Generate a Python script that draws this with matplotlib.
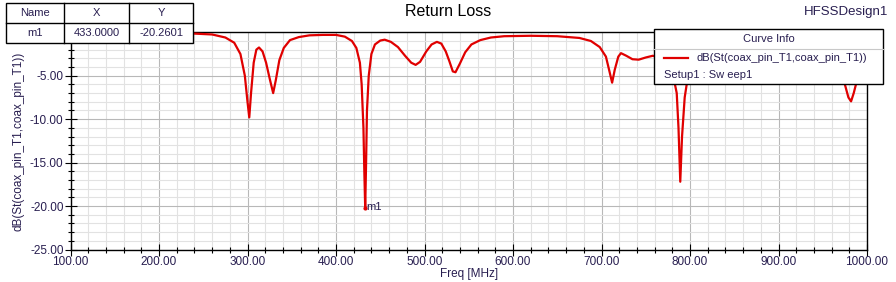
import matplotlib
matplotlib.use('Agg')
import matplotlib.pyplot as plt
from matplotlib.ticker import MultipleLocator, FormatStrFormatter
from matplotlib.patches import Rectangle
from matplotlib.lines import Line2D

plt.rcParams['font.family'] = ['Liberation Sans', 'DejaVu Sans']

TEXT_COLOR = '#281e50'
LINE_COLOR = '#e00000'

# S11 sweep (MHz, dB)
freq = [100, 150, 200, 240, 260, 275, 285, 292, 297, 300, 302, 304, 307, 310, 313,
        317, 321, 325, 329, 332, 336, 341, 348, 358, 370, 385, 400, 410, 418, 423,
        427, 429, 431, 432, 433, 434, 435, 437, 440, 444, 450, 455, 462, 470, 478,
        485, 490, 495, 502, 508, 514, 519, 524, 528, 532, 535, 540, 546, 553, 563,
        575, 590, 620, 650, 675, 688, 698, 705, 709, 712, 715, 719, 722, 728, 735,
        742, 750, 758, 765, 772, 778, 782, 785, 787, 789, 791, 794, 797, 802, 820,
        850, 900, 940, 960, 970, 975, 979, 982, 985, 988, 992, 1000]
s11_db = [-0.10, -0.10, -0.12, -0.15, -0.25, -0.6, -1.2, -2.5, -5.0, -8.0, -9.8, -7.0, -3.5, -2.0, -1.75,
          -2.2, -3.5, -5.3, -7.0, -5.5, -3.2, -1.8, -0.9, -0.55, -0.35, -0.3, -0.3, -0.5, -1.0, -1.8,
          -3.5, -6.0, -11.0, -16.0, -20.26, -15.0, -9.0, -5.0, -2.5, -1.4, -0.95, -0.85, -1.1, -1.7, -2.7,
          -3.5, -3.75, -3.4, -2.2, -1.4, -1.1, -1.3, -2.2, -3.3, -4.5, -4.6, -3.6, -2.3, -1.4, -0.9,
          -0.6, -0.45, -0.4, -0.45, -0.65, -1.0, -1.7, -2.8, -4.5, -5.8, -4.3, -2.8, -2.4, -2.7, -3.1,
          -3.15, -2.9, -2.7, -2.9, -3.5, -4.5, -5.5, -7.0, -11.0, -17.2, -12.0, -7.5, -5.5, -4.0, -2.8,
          -2.2, -2.0, -2.5, -3.5, -5.0, -6.0, -7.5, -7.95, -7.0, -5.8, -4.5, -3.0]

x_ticks = [100, 200, 300, 400, 500, 600, 700, 800, 900, 1000]
y_ticks = [-25, -20, -15, -10, -5]   # 0.00 sits under the marker table

marker_name = 'm1'
marker_x = 433.0
marker_y = -20.2601

W, H = 896, 282
fig = plt.figure(figsize=(W / 100, H / 100), dpi=100)
fig.patch.set_facecolor('white')


def px(x, y):
    # pixel coords (top-left origin) -> figure fraction
    return x / W, 1 - y / H


ax = fig.add_axes([70.5 / W, 1 - 249.5 / H, (867 - 70.5) / W, (249.5 - 32.3) / H])
ax.plot(freq, s11_db, color=LINE_COLOR, linewidth=1.6, zorder=3)
ax.set_xlim(100, 1000)
ax.set_ylim(-25, 0)

ax.set_xticks(x_ticks)
ax.set_yticks(y_ticks)
ax.xaxis.set_minor_locator(MultipleLocator(20))
ax.yaxis.set_minor_locator(MultipleLocator(1))
ax.xaxis.set_major_formatter(FormatStrFormatter('%.2f'))
ax.yaxis.set_major_formatter(FormatStrFormatter('%.2f'))
ax.grid(which='major', color='#b8b8b8', linewidth=0.8)
ax.grid(which='minor', color='#e2e2e2', linewidth=0.8)
ax.set_axisbelow(True)
ax.tick_params(which='major', direction='inout', length=8, width=0.8,
               labelsize=8.5, labelcolor=TEXT_COLOR, pad=1)
ax.tick_params(which='minor', direction='inout', length=4, width=0.8)
ax.tick_params(top=False, right=False)
for s in ax.spines.values():
    s.set_linewidth(1.0)
    s.set_color('black')

ax.set_xlabel('Freq [MHz]', fontsize=8.5, color=TEXT_COLOR, labelpad=0)
ax.set_ylabel('dB(St(coax_pin_T1,coax_pin_T1))', fontsize=8.5, color=TEXT_COLOR, labelpad=4)

# marker m1
ax.plot([marker_x], [marker_y], marker='o', markersize=2, color=LINE_COLOR, zorder=4)
ax.annotate(marker_name, (marker_x, marker_y), xytext=(1, 1), textcoords='offset points',
            fontsize=8, color=TEXT_COLOR, va='center', ha='left', zorder=5)

fig.text(0.5, px(0, 12)[1], 'Return Loss', ha='center', va='center', fontsize=11.5, color='black')
fig.text(px(888, 0)[0], px(0, 12)[1], 'HFSSDesign1', ha='right', va='center', fontsize=9.5,
         color=TEXT_COLOR)

# marker table
x0, x1, x2, x3 = 6, 64, 129, 193
y0, y1, y2 = 3, 23, 43
bx, by = px(x0, y2)
fig.patches.append(Rectangle((bx, by), (x3 - x0) / W, (y2 - y0) / H, transform=fig.transFigure,
                             facecolor='white', edgecolor='black', linewidth=1.0, zorder=10))
for xv in (x1, x2):
    fig.add_artist(Line2D([xv / W, xv / W], [px(0, y0)[1], px(0, y2)[1]], color='black',
                          linewidth=1.0, zorder=11))
fig.add_artist(Line2D([x0 / W, x3 / W], [px(0, y1)[1], px(0, y1)[1]], color='black',
                      linewidth=1.0, zorder=11))
table_head = ['Name', 'X', 'Y']
table_row = [marker_name, '%.4f' % marker_x, '%.4f' % marker_y]
cols = [(x0 + x1) / 2, (x1 + x2) / 2, (x2 + x3) / 2]
for cx, h, v in zip(cols, table_head, table_row):
    fig.text(cx / W, px(0, 13.5)[1], h, ha='center', va='center', fontsize=8, color=TEXT_COLOR, zorder=12)
    fig.text(cx / W, px(0, 33.5)[1], v, ha='center', va='center', fontsize=8, color=TEXT_COLOR, zorder=12)

# curve info box
lx0, lx1, ly0, ly1, lsep = 654, 883, 29, 84, 49
bx, by = px(lx0, ly1)
fig.patches.append(Rectangle((bx, by), (lx1 - lx0) / W, (ly1 - ly0) / H, transform=fig.transFigure,
                             facecolor='white', edgecolor='black', linewidth=1.0, zorder=10))
fig.add_artist(Line2D([lx0 / W, lx1 / W], [px(0, lsep)[1], px(0, lsep)[1]], color='#c8c8c8',
                      linewidth=0.8, zorder=11))
fig.text((lx0 + lx1) / 2 / W, px(0, 39.5)[1], 'Curve Info', ha='center', va='center', fontsize=8,
         color=TEXT_COLOR, zorder=12)
fig.add_artist(Line2D([664 / W, 688 / W], [px(0, 58.5)[1], px(0, 58.5)[1]], color=LINE_COLOR,
                      linewidth=1.6, zorder=11))
fig.text(696 / W, px(0, 58.5)[1], 'dB(St(coax_pin_T1,coax_pin_T1))', ha='left', va='center',
         fontsize=8, color=TEXT_COLOR, zorder=12)
fig.text(664 / W, px(0, 74.5)[1], 'Setup1 : Sw eep1', ha='left', va='center', fontsize=8,
         color=TEXT_COLOR, zorder=12)

fig.savefig('out.png', dpi=100)
